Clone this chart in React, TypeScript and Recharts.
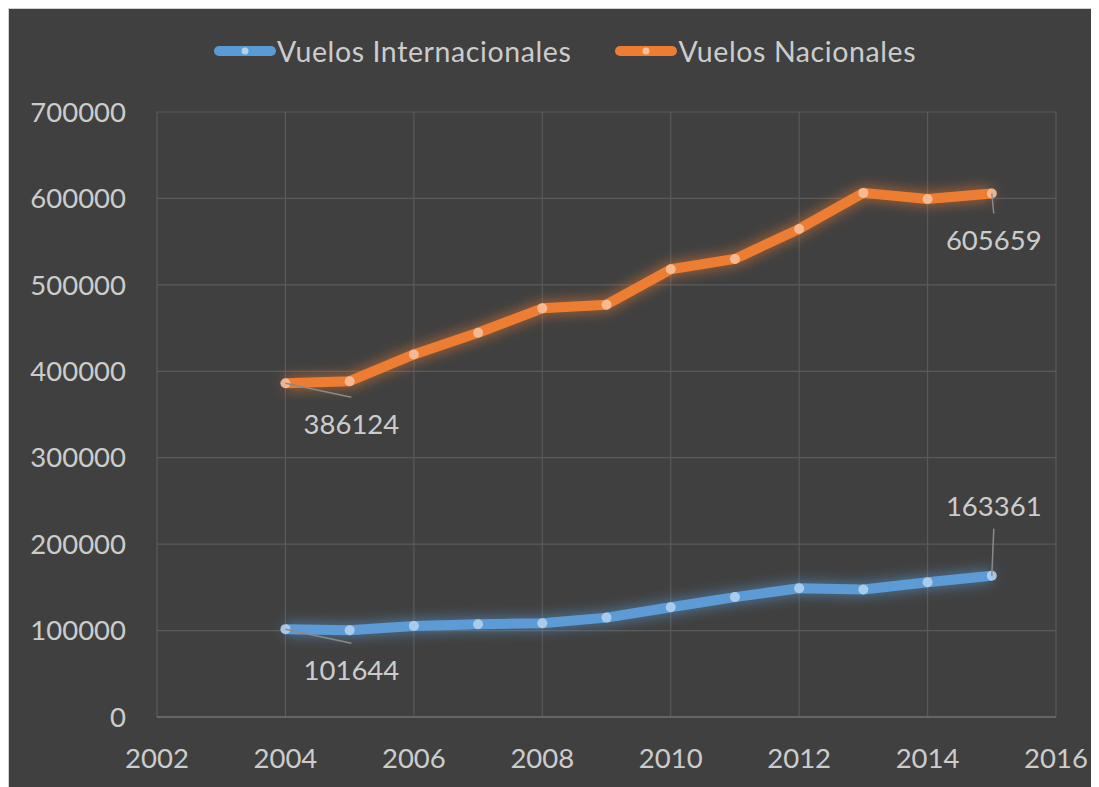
import { CartesianGrid, LabelList, Legend, Line, LineChart, XAxis, YAxis } from "recharts";

const years = [2004, 2005, 2006, 2007, 2008, 2009, 2010, 2011, 2012, 2013, 2014, 2015];
const internacionales = [101644, 100400, 105400, 107400, 108500, 115000, 127000, 138700, 149000, 147500, 156000, 163361];
const nacionales = [386124, 388500, 419500, 444600, 472800, 477000, 518000, 530000, 564700, 606400, 599400, 605659];
const xTicks = [2002, 2004, 2006, 2008, 2010, 2012, 2014, 2016];
const yTicks = [0, 100000, 200000, 300000, 400000, 500000, 600000, 700000];

const rows = years.map((year, i) => ({
  year,
  int: internacionales[i],
  nac: nacionales[i],
}));

const TEXT = "#cccccc";
const BLUE = "#5b9bd5";
const ORANGE = "#ed7d31";
const FONT = "Lato, 'Open Sans', sans-serif";
const FS = 27.5;

// leader-line labels on first and last point only
function EndLabel(props: any) {
  const { x, y, index, value, below } = props;
  const last = years.length - 1;
  if (index !== 0 && index !== last) return null;
  let lx: number, ly: number, tx: number, ty: number;
  if (index === 0) {
    lx = x + 66;
    ly = y + 14;
    tx = x + 66;
    ty = y + 40;
  } else if (below) {
    lx = x + 2;
    ly = y + 20;
    tx = x + 2;
    ty = y + 46;
  } else {
    lx = x + 2;
    ly = y - 47;
    tx = x + 2;
    ty = y - 70;
  }
  return (
    <g>
      <line x1={x} y1={y} x2={lx} y2={ly} stroke="#8a8a8a" strokeWidth={1.5} />
      <text
        x={tx}
        y={ty}
        textAnchor="middle"
        dominantBaseline="central"
        fill={TEXT}
        fontSize={FS}
        fontFamily={FONT}
      >
        {value}
      </text>
    </g>
  );
}

function LegendContent() {
  const items = [
    { name: "Vuelos Internacionales", color: BLUE, dot: "#b3d1ee" },
    { name: "Vuelos Nacionales", color: ORANGE, dot: "#f8c09a" },
  ];
  return (
    <div style={{ display: "flex", alignItems: "center", gap: 44 }}>
      {items.map((it) => (
        <div key={it.name} style={{ display: "flex", alignItems: "center" }}>
          <svg width={63} height={14}>
            <line x1={5} y1={7} x2={57} y2={7} stroke={it.color} strokeWidth={10} strokeLinecap="round" />
            <circle cx={31} cy={7} r={3.5} fill={it.dot} />
          </svg>
          <span style={{ color: TEXT, fontSize: 28.5, letterSpacing: 0.6, fontFamily: FONT, lineHeight: "32px" }}>
            {it.name}
          </span>
        </div>
      ))}
    </div>
  );
}

export default function App() {
  return (
    <div
      style={{
        width: 1091,
        height: 779,
        background: "#404040",
        borderTop: "1px solid #d0d0d0",
        borderLeft: "1px solid #d0d0d0",
        boxSizing: "border-box",
        fontFamily: FONT,
      }}
    >
      <style>{`
        .glow-int .recharts-line-curve, .glow-int .recharts-line-dot { filter: url(#glowInt); }
        .glow-nac .recharts-line-curve, .glow-nac .recharts-line-dot { filter: url(#glowNac); }
      `}</style>
      <LineChart width={1090} height={778} data={rows} margin={{ top: 103, right: 43, left: 0, bottom: 0 }}>
        <defs>
          <filter id="glowInt" filterUnits="userSpaceOnUse" x={0} y={0} width={1090} height={778}>
            <feGaussianBlur in="SourceGraphic" stdDeviation={7} result="blur" />
            <feColorMatrix in="blur" type="matrix" values="1 0 0 0 0  0 1 0 0 0  0 0 1 0 0  0 0 0 0.75 0" result="soft" />
            <feMerge>
              <feMergeNode in="soft" />
              <feMergeNode in="SourceGraphic" />
            </feMerge>
          </filter>
          <filter id="glowNac" filterUnits="userSpaceOnUse" x={0} y={0} width={1090} height={778}>
            <feGaussianBlur in="SourceGraphic" stdDeviation={7} result="blur" />
            <feColorMatrix in="blur" type="matrix" values="1 0 0 0 0  0 1 0 0 0  0 0 1 0 0  0 0 0 0.75 0" result="soft" />
            <feMerge>
              <feMergeNode in="soft" />
              <feMergeNode in="SourceGraphic" />
            </feMerge>
          </filter>
        </defs>
        <CartesianGrid stroke="#5a5a5a" strokeWidth={1.2} verticalValues={xTicks} horizontalValues={yTicks} />
        <XAxis
          dataKey="year"
          type="number"
          domain={[2002, 2016]}
          ticks={xTicks}
          height={70}
          tickLine={false}
          axisLine={{ stroke: "#6e6e6e", strokeWidth: 1.5 }}
          tickMargin={25}
          tick={{ fill: TEXT, fontSize: FS, fontFamily: FONT }}
        />
        <YAxis
          type="number"
          domain={[0, 700000]}
          ticks={yTicks}
          width={148}
          tickLine={false}
          axisLine={false}
          tickMargin={25}
          tick={{ fill: TEXT, fontSize: FS, fontFamily: FONT }}
        />
        <Legend
          verticalAlign="middle"
          align="center"
          content={<LegendContent />}
          wrapperStyle={{ top: 26, left: 205, width: "auto" }}
        />
        <Line
          className="glow-int"
          dataKey="int"
          name="Vuelos Internacionales"
          stroke={BLUE}
          strokeWidth={10}
          strokeLinejoin="round"
          dot={{ r: 5, fill: "#b3d1ee", stroke: "none", fillOpacity: 0.9 }}
          activeDot={false}
          isAnimationActive={false}
        >
          <LabelList dataKey="int" content={(p: any) => <EndLabel {...p} below={false} />} />
        </Line>
        <Line
          className="glow-nac"
          dataKey="nac"
          name="Vuelos Nacionales"
          stroke={ORANGE}
          strokeWidth={10}
          strokeLinejoin="round"
          dot={{ r: 5, fill: "#f8c09a", stroke: "none", fillOpacity: 0.9 }}
          activeDot={false}
          isAnimationActive={false}
        >
          <LabelList dataKey="nac" content={(p: any) => <EndLabel {...p} below={true} />} />
        </Line>
      </LineChart>
    </div>
  );
}
